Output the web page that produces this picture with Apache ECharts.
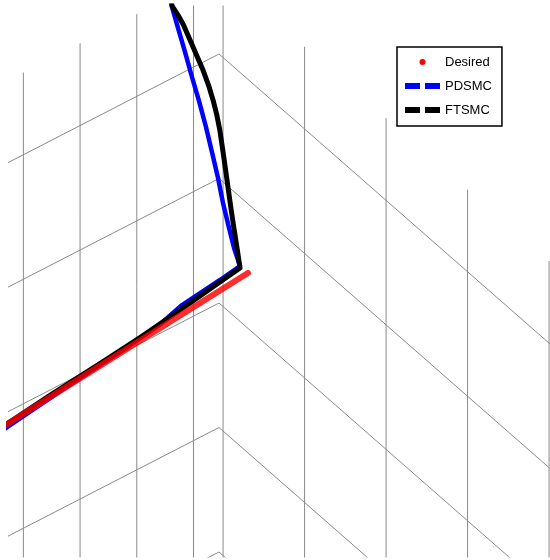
<!DOCTYPE html>
<html>
<head>
<meta charset="utf-8">
<script src="https://cdn.jsdelivr.net/npm/echarts@6/dist/echarts.min.js"></script>
<style>
  html, body { margin: 0; padding: 0; background: #fff; }
  #chart { width: 550px; height: 560px; }
</style>
</head>
<body>
<div id="chart"></div>
<script>
// Limits of the 3-D axes box (x, y, z)
const xLimits = [-1.05, 4.5];
const yLimits = [-2.0, 3.45];
const zLimits = [-0.5, 4.66];

// Grid ticks on each axis
const xTicks = [-1, 0, 1, 2, 3, 4];
const yTicks = [-1, 0, 1, 2, 3];
const zTicks = [0, 1, 2, 3, 4];

// Trajectories as [x, y, z]
const desiredPath = [
  [-0.678, 3.426, 2.46],
  [-0.562, 1.180, 2.46],
  [-0.408, -1.777, 2.46]
];

const pdsmcPath = [
  [-1.050, 2.600, 4.660],
  [-1.042, 2.609, 4.580],
  [-1.016, 2.679, 4.409],
  [-0.988, 2.761, 4.214],
  [-0.958, 2.841, 4.011],
  [-0.929, 2.923, 3.816],
  [-0.898, 3.002, 3.606],
  [-0.868, 3.064, 3.408],
  [-0.836, 3.125, 3.203],
  [-0.806, 3.170, 3.009],
  [-0.776, 3.233, 2.810],
  [-0.752, 3.287, 2.651],
  [-0.734, 3.349, 2.526],
  [-0.731, 3.362, 2.501],
  [-0.743, 3.027, 2.460],
  [-0.719, 2.640, 2.460],
  [-0.695, 2.288, 2.460],
  [-0.623, 1.796, 2.460],
  [-0.562, 1.003, 2.460],
  [-0.487, -0.164, 2.460],
  [-0.414, -1.168, 2.460],
  [-0.365, -1.837, 2.460]
];

const ftsmcPath = [
  [-1.050, 2.600, 4.660],
  [-1.043, 2.611, 4.587],
  [-1.032, 2.701, 4.499],
  [-1.020, 2.781, 4.407],
  [-1.002, 2.870, 4.276],
  [-0.984, 2.958, 4.145],
  [-0.966, 3.047, 4.014],
  [-0.948, 3.118, 3.887],
  [-0.930, 3.172, 3.765],
  [-0.912, 3.213, 3.645],
  [-0.894, 3.240, 3.528],
  [-0.870, 3.258, 3.377],
  [-0.846, 3.273, 3.227],
  [-0.822, 3.288, 3.076],
  [-0.798, 3.303, 2.926],
  [-0.774, 3.321, 2.775],
  [-0.750, 3.342, 2.623],
  [-0.728, 3.358, 2.487],
  [-0.726, 3.001, 2.460],
  [-0.693, 2.602, 2.460],
  [-0.644, 2.002, 2.460],
  [-0.599, 1.409, 2.460],
  [-0.552, 0.635, 2.460],
  [-0.497, -0.326, 2.460],
  [-0.445, -1.124, 2.460],
  [-0.405, -1.780, 2.460]
];

// Axonometric view: screen-plane offsets per unit along x, y and z
function project(p) {
  const a = p[0] - xLimits[0];   // distance from the back wall along x
  const b = yLimits[1] - p[1];   // distance from the back wall along y
  return [81.5 * a - 56.7 * b, 124.5 * p[2] - 71.4 * a - 29.2 * b];
}

const gridStyle = { color: '#8a8a8a', width: 1 };

function segment(p, q) {
  return {
    type: 'line',
    data: [project(p), project(q)],
    showSymbol: false,
    silent: true,
    clip: true,
    lineStyle: gridStyle,
    z: 1
  };
}

const gridSeries = [];
const [x0, x1] = xLimits, [y0, y1] = yLimits, [z0, z1] = zLimits;
// back wall at x = xmin
zTicks.forEach(z => gridSeries.push(segment([x0, y0, z], [x0, y1, z])));
yTicks.forEach(y => gridSeries.push(segment([x0, y, z0], [x0, y, z1])));
// back wall at y = ymax
zTicks.forEach(z => gridSeries.push(segment([x0, y1, z], [x1, y1, z])));
xTicks.forEach(x => gridSeries.push(segment([x, y1, z0], [x, y1, z1])));

function trajectory(name, path, color, width, zLevel, opacity) {
  return {
    name: name,
    type: 'line',
    data: path.map(project),
    showSymbol: false,
    clip: true,
    silent: true,
    itemStyle: { color: color },
    lineStyle: { color: color, width: width, cap: 'round', join: 'round', opacity: opacity },
    z: zLevel
  };
}

const dashIcon = 'path://M0,0H15V6H0Z M20,0H35V6H20Z';

const chart = echarts.init(document.getElementById('chart'), null, { renderer: 'canvas' });
chart.setOption({
  animation: false,
  backgroundColor: '#ffffff',
  grid: { left: 9, right: 0, top: 6, bottom: 3 },
  xAxis: { type: 'value', min: -210, max: 331, show: false },
  yAxis: { type: 'value', min: -5, max: 546, show: false },
  legend: {
    left: 397,
    top: 47,
    orient: 'vertical',
    padding: [8, 10, 9, 8],
    itemGap: 10,
    itemWidth: 35,
    itemHeight: 6,
    itemTextGap: 9,
    backgroundColor: '#ffffff',
    borderColor: '#000000',
    borderWidth: 1.5,
    borderRadius: 0,
    selectedMode: false,
    textStyle: {
      color: '#000000',
      fontFamily: '"Liberation Sans", Arial, sans-serif',
      fontSize: 13,
      lineHeight: 14
    },
    data: [
      { name: 'Desired', icon: 'circle' },
      { name: 'PDSMC', icon: dashIcon },
      { name: 'FTSMC', icon: dashIcon }
    ]
  },
  series: gridSeries.concat([
    trajectory('PDSMC', pdsmcPath, '#0000ff', 4.5, 3, 1),
    trajectory('FTSMC', ftsmcPath, '#000000', 5, 4, 1),
    trajectory('Desired', desiredPath, '#ff0000', 6, 5, 0.82)
  ])
});
</script>
</body>
</html>
